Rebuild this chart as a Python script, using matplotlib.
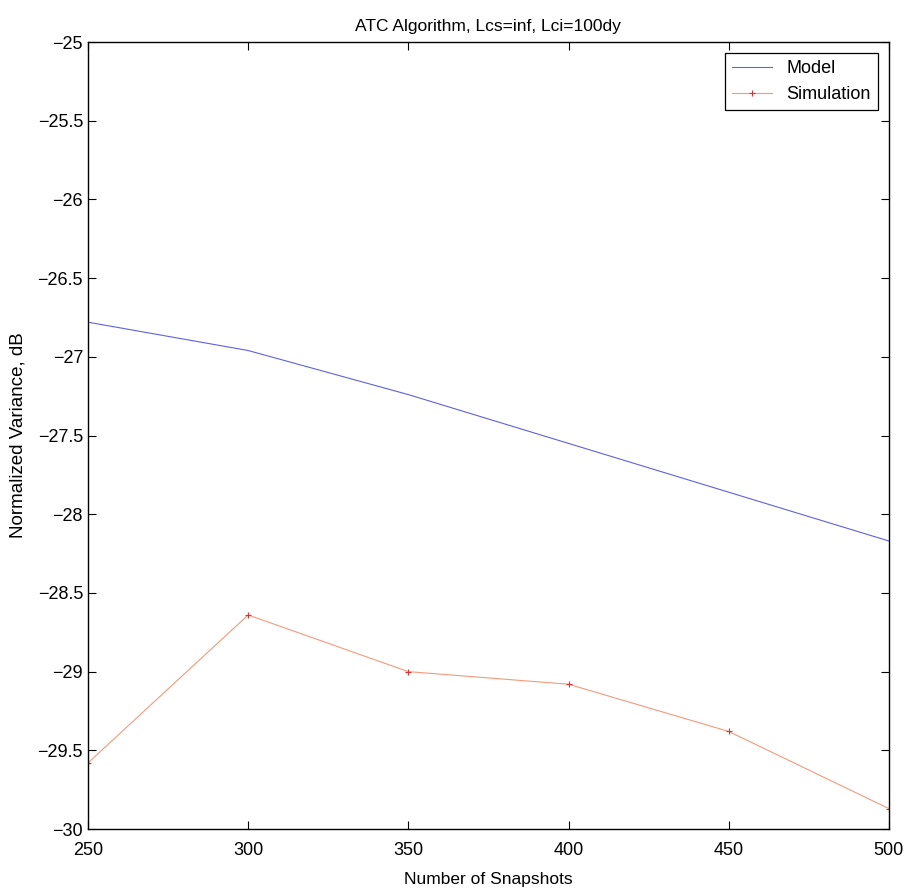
import matplotlib.pyplot as plt
import numpy as np

plt.rcParams['font.family'] = ['Liberation Sans', 'DejaVu Sans']

snapshots = [250, 300, 350, 400, 450, 500]
model = [-26.78, -26.96, -27.24, -27.55, -27.86, -28.17]
simulation = [-29.58, -28.64, -29.00, -29.08, -29.38, -29.87]
ytick_vals = [-30, -29.5, -29, -28.5, -28, -27.5, -27, -26.5, -26, -25.5, -25]

fig = plt.figure(figsize=(9.07, 8.88), dpi=100)
ax = fig.add_axes([0.097, 0.0664, 0.883, 0.8863])

ax.plot(snapshots, model, color='#6060e0', lw=0.8, label='Model')
ax.plot(snapshots, simulation, color='#f49a7a', lw=0.8, marker='+', ms=5,
        mec='#e03030', mew=0.8, label='Simulation')

ax.set_xlim(250, 500)
ax.set_ylim(-30, -25)
ax.set_xticks(np.arange(250, 501, 50))
ax.set_yticks(ytick_vals)
ax.set_yticklabels([('%g' % v).replace('-', '\u2212') for v in ytick_vals])
ax.tick_params(direction='in', top=True, right=True, labelsize=13, length=6)
ax.tick_params(axis='x', pad=9)
for s in ax.spines.values():
    s.set_linewidth(1.0)

ax.set_title('ATC Algorithm, Lcs=inf, Lci=100dy', fontsize=12.5, pad=8)
ax.set_xlabel('Number of Snapshots', fontsize=12.5, labelpad=10)
ax.set_ylabel('Normalized Variance, dB', fontsize=13.5, labelpad=8)

leg = ax.legend(loc='upper right', fontsize=13, fancybox=False, framealpha=1,
                edgecolor='black', borderaxespad=0.6, handlelength=2.2)
leg.get_frame().set_linewidth(0.9)

fig.savefig('out.png', dpi=100)
